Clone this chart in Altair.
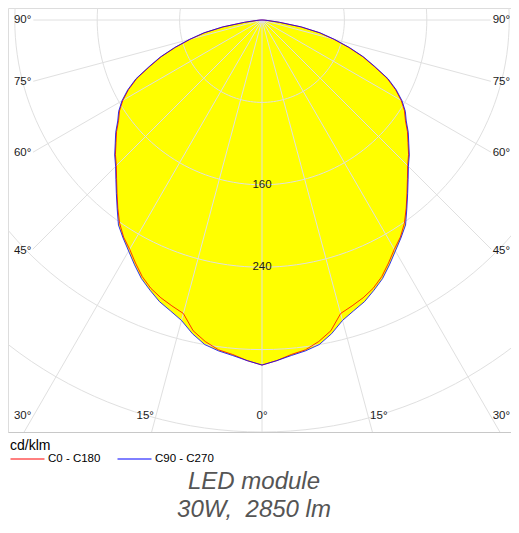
import altair as alt
import numpy as np
import pandas as pd

# ---------------- data ----------------
gamma = [0, 2.5, 5, 7.5, 10, 12.5, 15, 17.5, 20, 22.5, 25, 27.5, 30, 32.5, 35, 37.5,
         40, 42.5, 45, 47.5, 50, 52.5, 55, 57.5, 60, 62.5, 65, 67.5, 70, 72.5, 75,
         77.5, 80, 82.5, 85, 87.5, 90]
c0_c180 = [335, 331, 326, 323, 317, 309, 295, 291, 287, 282, 275, 266, 257, 250, 241, 230,
           219, 209, 200, 193, 185, 178, 170, 164, 156, 146, 134, 118, 104, 88, 72,
           57, 38, 17, 5, 2, 0]
c90_c270 = [335, 331, 327, 324, 320, 312, 302, 296, 291, 284, 277, 268, 259, 251, 243, 231,
            220, 210, 201, 194, 186, 179, 171, 165, 157, 147, 135, 119, 105, 89, 73,
            58, 39, 17, 6, 2, 0]
series_names = ["C0 - C180", "C90 - C270"]
series_colors = ["#ff0000", "#0000ff"]
rings = [80, 160, 240, 320, 400]
ring_labels = [160, 240]
angle_ticks = [-90, -75, -60, -45, -30, -15, 0, 15, 30, 45, 60, 75, 90]
unit_label = "cd/klm"
title_lines = ["LED module", "30W,\u00a0 2850 lm"]

# ---------------- layout constants ----------------
K = 1.03                      # px per cd/klm
W, H = 503, 424
OX = 254                      # origin offset from view left (px)
XMIN, XMAX = -OX / K, (W - OX) / K
YMIN, YMAX = -400.0, 12 / K
SIDE_X = 224.0                # where side angle labels sit
BOTTOM_Y = 384.5              # where bottom angle labels sit
FONT = "Liberation Sans"

# ---------------- tables ----------------
rows = []
for name, vals in zip(series_names, [c0_c180, c90_c270]):
    sg = [-g for g in gamma[::-1]] + gamma[1:]
    rv = vals[::-1] + vals[1:]
    for i, (a, r) in enumerate(zip(sg, rv)):
        t = np.radians(a)
        rows.append({"series": name, "idx": i, "x": r * np.sin(t), "y": -r * np.cos(t)})
curves = pd.DataFrame(rows)

fill_rows = []
for i, g in enumerate(gamma):
    r = max(c0_c180[i], c90_c270[i])
    t = np.radians(g)
    fill_rows.append({"yy": -r * np.cos(t), "xl": -r * np.sin(t), "xr": r * np.sin(t)})
fill_df = pd.DataFrame(fill_rows).sort_values("yy").reset_index(drop=True)

circ_rows = []
for R in rings:
    for j, t in enumerate(np.radians(np.arange(0, 362, 2))):
        circ_rows.append({"ring": R, "idx": j, "x": R * np.sin(t), "y": R * np.cos(t)})
circles = pd.DataFrame(circ_rows)

rad_rows = []
for a in angle_ticks:
    t = np.radians(a)
    if abs(a) >= 45:
        rend = SIDE_X / abs(np.sin(t)) - 2
    else:
        rend = 700
    rad_rows.append({"x": 0.0, "y": 0.0, "x2": rend * np.sin(t), "y2": -rend * np.cos(t)})
radials = pd.DataFrame(rad_rows)

lab_left, lab_right, lab_center = [], [], []
for a in angle_ticks:
    t = np.radians(abs(a))
    txt = f"{abs(a)}°"
    if abs(a) >= 45:
        x, y = SIDE_X, (-SIDE_X / np.tan(t) if abs(a) < 90 else 0.0)
        off = 0.0
    else:
        x, y = BOTTOM_Y * np.tan(t), -BOTTOM_Y
        off = 2 / K
    if a < 0:
        lab_left.append({"x": -x - off, "y": y, "t": txt})
    elif a > 0:
        lab_right.append({"x": x + off, "y": y, "t": txt})
    else:
        lab_center.append({"x": 0.0, "y": y, "t": txt})
lab_left, lab_right, lab_center = map(pd.DataFrame, (lab_left, lab_right, lab_center))
ringlab = pd.DataFrame({"x": [0.0] * len(ring_labels), "y": [-v for v in ring_labels],
                        "t": [str(v) for v in ring_labels]})

# ---------------- encodings ----------------
xs = alt.Scale(domain=[XMIN, XMAX], nice=False, zero=False)
ys = alt.Scale(domain=[YMIN, YMAX], nice=False, zero=False)
xax = alt.Axis(domain=True, domainColor="#c8c8c8", domainWidth=1, ticks=False,
               labels=False, grid=False, title=None)


def X(f="x"):
    return alt.X(f"{f}:Q", scale=xs, axis=xax, stack=None)


def Y(f="y"):
    return alt.Y(f"{f}:Q", scale=ys, axis=None, stack=None)


GRID = "#e0e0e0"
area = alt.Chart(fill_df).mark_area(orient="horizontal", fill="#ffff00", stroke=None,
                                    fillOpacity=1, interpolate="linear").encode(
    y=Y("yy"), x=X("xl"), x2=alt.X2("xr"))

grid_c = alt.Chart(circles).mark_line(color=GRID, strokeWidth=1, clip=True).encode(
    x=X(), y=Y(), detail="ring:N", order="idx:Q")

grid_r = alt.Chart(radials).mark_rule(color=GRID, strokeWidth=1, clip=True).encode(
    x=X(), y=Y(), x2="x2:Q", y2="y2:Q")

lines = alt.Chart(curves).mark_line(strokeWidth=0.8, clip=True).encode(
    x=X(), y=Y(), order="idx:Q",
    color=alt.Color("series:N",
                    scale=alt.Scale(domain=series_names, range=series_colors),
                    legend=alt.Legend(title=unit_label, orient="none", legendX=2, legendY=431,
                                      direction="horizontal", titleFont=FONT, titleFontSize=14,
                                      titleFontWeight="normal", titleColor="#000000",
                                      titleAnchor="start", titlePadding=0,
                                      labelFont=FONT, labelFontSize=11.5, labelColor="#000000",
                                      symbolType="stroke", symbolSize=1156, symbolStrokeWidth=1,
                                      labelOffset=3, columnPadding=16, padding=0,
                                      clipHeight=12)))

txt_kw = dict(font=FONT, fontSize=11.5, color="#1a1a1a", baseline="middle")
t_left = alt.Chart(lab_left).mark_text(align="right", **txt_kw).encode(x=X(), y=Y(), text="t:N")
t_right = alt.Chart(lab_right).mark_text(align="left", **txt_kw).encode(x=X(), y=Y(), text="t:N")
t_center = alt.Chart(lab_center).mark_text(align="center", **txt_kw).encode(x=X(), y=Y(), text="t:N")
t_rings = alt.Chart(ringlab).mark_text(align="center", **txt_kw).encode(x=X(), y=Y(), text="t:N")

chart = alt.layer(area, grid_c, grid_r, lines, t_rings, t_left, t_right, t_center).properties(
    width=W, height=H, padding=0,
    title=alt.TitleParams(text=title_lines, orient="bottom", anchor="middle", font=FONT,
                          fontSize=24, fontStyle="italic", fontWeight="normal",
                          color="#555555", lineHeight=28, offset=5, dx=-5.5),
).configure_view(stroke=None).configure(background="white")

chart.save("out.html", embed_options={"renderer": "svg", "actions": False})
